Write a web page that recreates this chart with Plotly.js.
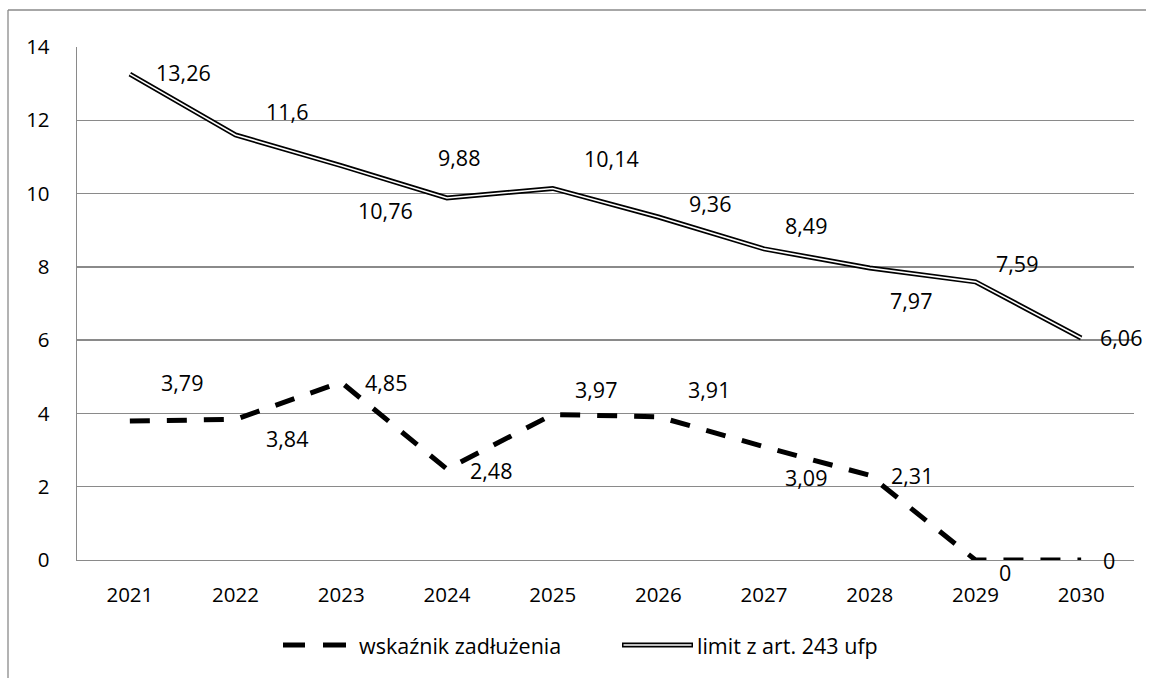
<!DOCTYPE html>
<html>
<head>
<meta charset="utf-8">
<script src="https://cdn.plot.ly/plotly-3.0.1.min.js"></script>
<style>
  html, body { margin: 0; padding: 0; background: #ffffff; }
  #chart { width: 1150px; height: 678px; }
</style>
</head>
<body>
<div id="chart"></div>
<script>
// ---- data ----
const years = ['2021','2022','2023','2024','2025','2026','2027','2028','2029','2030'];
const debtRatio = [3.79, 3.84, 4.85, 2.48, 3.97, 3.91, 3.09, 2.31, 0, 0];
const limit243 = [13.26, 11.6, 10.76, 9.88, 10.14, 9.36, 8.49, 7.97, 7.59, 6.06];
const debtName = 'wskaźnik zadłużenia';
const limitName = 'limit z art. 243 ufp';
const yTicks = [0, 2, 4, 6, 8, 10, 12, 14];

// ---- label offsets (pixels, style only) ----
const limitLabelShift = [[54,2],[51,23],[44,-45],[12,40],[59,30],[52,14],[42,23],[41,-33],[42,18],[40,0]];
const debtLabelShift  = [[52,39],[51,-19],[45,0],[44,-1],[43,25],[51,27],[42,-31],[42,0],[30,-12],[28,0]];

const FONT = 'Open Sans, Noto Sans, DejaVu Sans, sans-serif';
const FS_TICK = 20.5;
const FS_LBL = 21.5;
const fmt = v => String(v).replace('.', ',');

const traces = [
  { x: years, y: debtRatio, type: 'scatter', mode: 'lines', name: debtName,
    line: { color: '#000000', width: 5, dash: '20px,17px' }, showlegend: false, hoverinfo: 'skip' },
  { x: years, y: limit243, type: 'scatter', mode: 'lines', name: limitName,
    line: { color: '#000000', width: 5 }, showlegend: false, hoverinfo: 'skip' },
  { x: years, y: limit243, type: 'scatter', mode: 'lines', name: limitName + ' (inner)',
    line: { color: '#ffffff', width: 1.6 }, showlegend: false, hoverinfo: 'skip' }
];

const annotations = [];
years.forEach((yr, i) => {
  // category axis: position given by category index
  annotations.push({ x: i, y: limit243[i], xref: 'x', yref: 'y', text: fmt(limit243[i]),
    showarrow: false, xshift: limitLabelShift[i][0], yshift: limitLabelShift[i][1],
    font: { family: FONT, size: FS_LBL, color: '#000' } });
  annotations.push({ x: i, y: debtRatio[i], xref: 'x', yref: 'y', text: fmt(debtRatio[i]),
    showarrow: false, xshift: debtLabelShift[i][0], yshift: debtLabelShift[i][1],
    font: { family: FONT, size: FS_LBL, color: '#000' } });
});

// pixel -> paper helpers (plot area: x 77..1134, y 47..560)
const L = 77, R = 1134, T = 47, B = 560;
const px = p => (p - L) / (R - L);
const py = p => (B - p) / (B - T);

// manual legend
const legY = py(645);
annotations.push({ x: px(357), y: legY, xref: 'paper', yref: 'paper', xanchor: 'left', yanchor: 'middle',
  text: debtName, showarrow: false, font: { family: FONT, size: FS_LBL, color: '#000' } });
annotations.push({ x: px(695), y: legY, xref: 'paper', yref: 'paper', xanchor: 'left', yanchor: 'middle',
  text: limitName, showarrow: false, font: { family: FONT, size: FS_LBL, color: '#000' } });

const shapes = [
  // outer frame (top + left)
  { type: 'line', xref: 'paper', yref: 'paper', x0: px(8), x1: px(1146), y0: py(10), y1: py(10),
    line: { color: '#8a8a8a', width: 1.3 } },
  { type: 'line', xref: 'paper', yref: 'paper', x0: px(8), x1: px(8), y0: py(10), y1: py(680),
    line: { color: '#8a8a8a', width: 1.3 } },
  // legend: dashed sample
  { type: 'line', xref: 'paper', yref: 'paper', x0: px(283), x1: px(305), y0: legY, y1: legY,
    line: { color: '#000', width: 5 } },
  { type: 'line', xref: 'paper', yref: 'paper', x0: px(323), x1: px(346), y0: legY, y1: legY,
    line: { color: '#000', width: 5 } },
  // legend: double line sample
  { type: 'line', xref: 'paper', yref: 'paper', x0: px(622), x1: px(693), y0: legY, y1: legY,
    line: { color: '#000', width: 5 } },
  { type: 'line', xref: 'paper', yref: 'paper', x0: px(623.5), x1: px(691.5), y0: legY, y1: legY,
    line: { color: '#fff', width: 1.6 } }
];

const layout = {
  width: 1150, height: 678,
  margin: { l: L, r: 1150 - R, t: T, b: 678 - B, pad: 0 },
  paper_bgcolor: '#ffffff', plot_bgcolor: '#ffffff',
  showlegend: false,
  font: { family: FONT, size: FS_TICK, color: '#000' },
  xaxis: {
    type: 'category', range: [-0.5, years.length - 0.5],
    showgrid: false, zeroline: false,
    showline: true, linecolor: '#8a8a8a', linewidth: 1.3,
    ticks: '', ticklabelstandoff: 16,
    tickfont: { family: FONT, size: FS_TICK, color: '#000' }, fixedrange: true
  },
  yaxis: {
    range: [0, 14], tickvals: yTicks, ticktext: yTicks.map(String),
    showgrid: true, gridcolor: '#8a8a8a', gridwidth: 1.3,
    zeroline: false, showline: true, linecolor: '#8a8a8a', linewidth: 1.3,
    ticks: '', ticklabelstandoff: 22,
    tickfont: { family: FONT, size: FS_TICK, color: '#000' }, fixedrange: true
  },
  annotations: annotations,
  shapes: shapes
};

Plotly.newPlot('chart', traces, layout, { displayModeBar: false, staticPlot: true });
</script>
</body>
</html>
